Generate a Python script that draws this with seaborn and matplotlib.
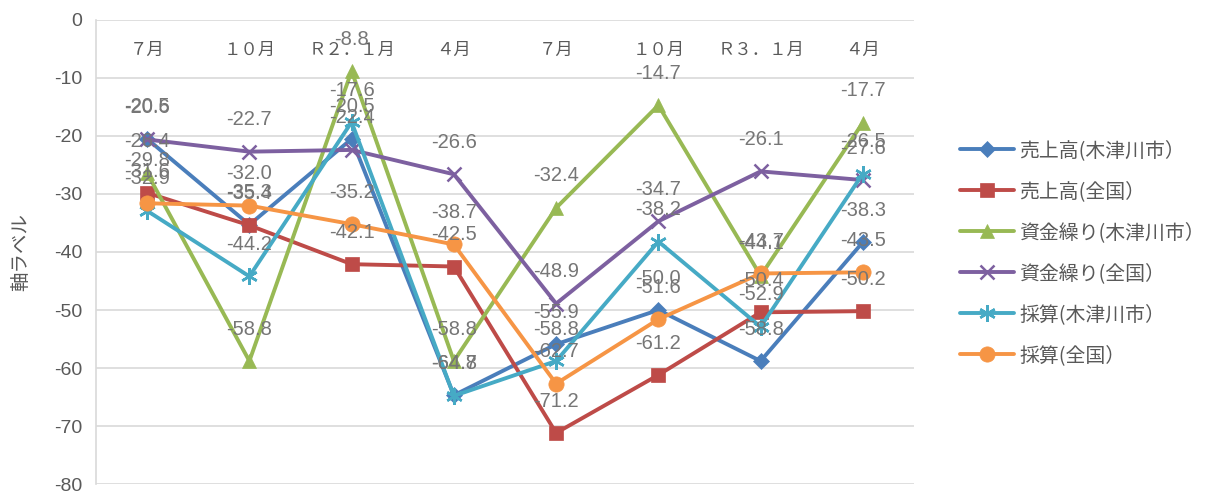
import matplotlib
matplotlib.use("Agg")
import matplotlib.pyplot as plt
import seaborn as sns
import pandas as pd
import numpy as np

categories = ["７月", "１０月", "Ｒ２．１月", "４月", "７月", "１０月", "Ｒ３．１月", "４月"]
series_names = ["売上高(木津川市）", "売上高(全国）", "資金繰り(木津川市）", "資金繰り(全国）", "採算(木津川市）", "採算(全国）"]
sales_city = [-20.5, -35.3, -20.5, -64.7, -55.9, -50.0, -58.8, -38.3]
sales_nat = [-29.8, -35.4, -42.1, -42.5, -71.2, -61.2, -50.4, -50.2]
cash_city = [-26.4, -58.8, -8.8, -58.8, -32.4, -14.7, -44.1, -17.7]
cash_nat = [-20.6, -22.7, -22.4, -26.6, -48.9, -34.7, -26.1, -27.6]
profit_city = [-32.9, -44.2, -17.6, -64.8, -58.8, -38.2, -52.9, -26.5]
profit_nat = [-31.6, -32.0, -35.2, -38.7, -62.7, -51.6, -43.7, -43.5]
all_values = [sales_city, sales_nat, cash_city, cash_nat, profit_city, profit_nat]

colors = ["#4A7EBB", "#BE4B48", "#98B954", "#7D60A0", "#46AAC5", "#F69545"]
markers = ["D", "s", "^", "x", (6, 2, 0), "o"]
msizes = [8, 10, 10, 10, 12, 11]

sns.set_theme(style="white")
plt.rcParams['font.family'] = ['Noto Sans CJK JP', 'DejaVu Sans']

rows = []
for name, vals in zip(series_names, all_values):
    for i, v in enumerate(vals):
        rows.append({"pos": i, "value": v, "series": name})
df = pd.DataFrame(rows)

fig = plt.figure(figsize=(12.05, 4.93), dpi=100)
ax = fig.add_axes([96/1205, 1 - 484/493, (914-96)/1205, (484-20)/493])

for name, col, mk, ms in zip(series_names, colors, markers, msizes):
    sub = df[df["series"] == name]
    sns.lineplot(data=sub, x="pos", y="value", ax=ax, color=col, marker=mk,
                 markersize=ms, linewidth=2.8, label=name,
                 markeredgecolor=col, markeredgewidth=1.8 if mk in ("x", (6, 2, 0)) else 0.5)

for vals in all_values:
    for i, v in enumerate(vals):
        ax.annotate(f"{v:.1f}", (i, v), xytext=(0, 23), textcoords="offset points",
                    ha="center", va="center", fontsize=14.5, color="#767676",
                    family=['Liberation Sans', 'DejaVu Sans'])

ax.set_xlim(-0.5, 7.5)
ax.set_ylim(-80, 0)
ax.set_yticks(np.arange(-80, 1, 10))
ax.set_yticklabels([str(t) for t in range(-80, 1, 10)], fontsize=14, color="#595959",
                   family=['Liberation Sans', 'DejaVu Sans'])
ax.set_xticks(range(len(categories)))
ax.set_xticklabels(categories, fontsize=12.5, color="#595959")
ax.tick_params(axis="x", top=True, labeltop=True, bottom=False, labelbottom=False,
               length=0, pad=-28)
ax.tick_params(axis="y", length=0, pad=10)
ax.grid(axis="y", color="#D9D9D9", linewidth=1.2)
ax.grid(axis="x", visible=False)
for s in ["top", "right", "bottom"]:
    ax.spines[s].set_visible(False)
ax.spines["left"].set_color("#D9D9D9")
ax.spines["left"].set_linewidth(1.2)
ax.set_xlabel("")
ax.set_ylabel("軸ラベル", fontsize=14, color="#595959", labelpad=16)

leg = ax.legend(loc="center left", bbox_to_anchor=(942/1205, 240/493),
                bbox_transform=fig.transFigure, frameon=False, fontsize=14.3,
                labelspacing=1.0, handlelength=2.7, handletextpad=0.3)
for t in leg.get_texts():
    t.set_color("#595959")

fig.savefig("out.png", dpi=100)
